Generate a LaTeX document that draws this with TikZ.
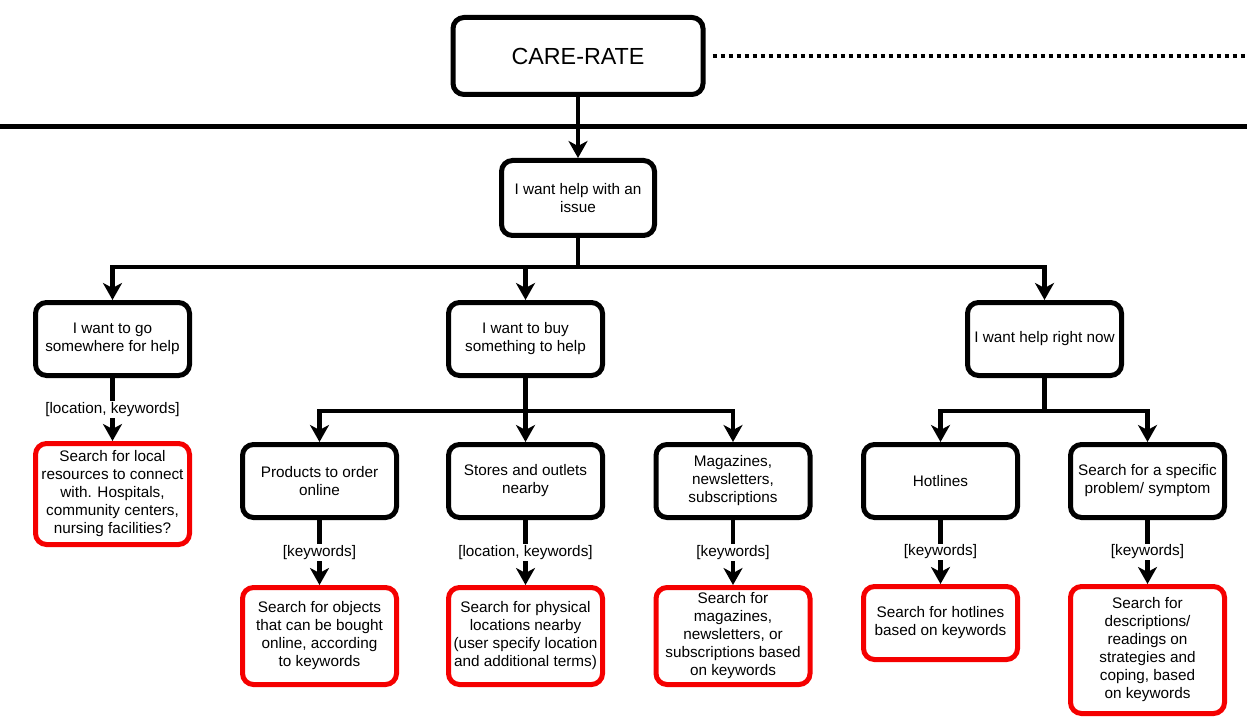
\documentclass[tikz,border=0pt]{standalone}
\usepackage{fontspec}
\setmainfont{Liberation Sans}
\usetikzlibrary{arrows.meta, positioning}
\definecolor{searchred}{RGB}{245,0,0}

\tikzset{
  box/.style={draw=black, line width=5pt, rounded corners=11pt, minimum width=154pt,
    minimum height=73pt, align=center, inner sep=2pt, font=\fontsize{15.3}{18}\selectfont},
  searchbox/.style={box, draw=searchred},
  link/.style={line width=4.5pt},
  arrow/.style={link, -{Stealth[length=17pt,width=19pt,inset=5pt]}},
  lbl/.style={fill=white, inner sep=1pt, font=\fontsize{15.3}{18}\selectfont}
}

\begin{document}
\begin{tikzpicture}[x=1pt,y=-1pt]
\useasboundingbox (0,0) rectangle (1247,727);
% top box, dotted line and the rule
\node [box, minimum width=250pt, minimum height=77pt, font=\fontsize{23.3}{28}\selectfont] (care) at (578,56) {CARE-RATE};
\coordinate (dots east) at (1247,56);
\coordinate (rule west) at (0,127);
\coordinate (rule east) at (1247,127);
\draw [line width=4pt, dash pattern=on 4pt off 4pt] ([xshift=7pt]care.east) -- (dots east);
\draw [line width=5pt] (rule west) -- (rule east);
% first question
\node [box, minimum width=153pt, minimum height=75pt] (issue) at (578,198) {I want help with an\\ issue};
\draw [arrow] (care) -- (issue);
\node [box] (go) at (112.5,339) {I want to go\\ somewhere for help};
\node [box] (buy) at (525.5,339) {I want to buy\\ something to help};
\node [box] (now) at (1044.5,339) {I want help right now};
\coordinate (hub1) at (578,267);
\draw [link] (issue) -- (hub1);
\draw [arrow] (hub1) -| (go);
\draw [arrow] (hub1) -| (buy);
\draw [arrow] (hub1) -| (now);
% go somewhere
\node [searchbox, minimum height=101pt] (local) at (112.5,494) {Search for local\\ resources to connect\\ with. Hospitals,\\ community centers,\\ nursing facilities?};
\draw [arrow] (go) -- node [lbl] {[location, keywords]} (local);
% buy something
\node [box] (products) at (319.5,481) {Products to order\\ online};
\node [box] (stores) at (525.5,481) {Stores and outlets\\ nearby};
\node [box] (magazines) at (733,481) {Magazines,\\ newsletters,\\ subscriptions};
\coordinate (hub2) at (525.5,411);
\draw [link] (buy) -- (hub2);
\draw [arrow] (hub2) -| (products);
\draw [arrow] (hub2) -- (stores);
\draw [arrow] (hub2) -| (magazines);
\node [searchbox, minimum height=97pt] (objects) at (319.5,636) {Search for objects\\ that can be bought\\ online, according\\ to keywords};
\node [searchbox, minimum height=97pt] (physical) at (525.5,636) {Search for physical\\ locations nearby\\ (user specify location\\ and additional terms)};
\node [searchbox, minimum height=97pt] (magsearch) at (733,636) {Search for\\ magazines,\\ newsletters, or\\ subscriptions based\\ on keywords};
\draw [arrow] (products) -- node [lbl] {[keywords]} (objects);
\draw [arrow] (stores) -- node [lbl] {[location, keywords]} (physical);
\draw [arrow] (magazines) -- node [lbl] {[keywords]} (magsearch);
% help right now
\node [box] (hotlines) at (940.5,481) {Hotlines};
\node [box] (specific) at (1147.5,481) {Search for a specific\\ problem/ symptom};
\coordinate (hub3) at (1044.5,411);
\draw [link] (now) -- (hub3);
\draw [arrow] (hub3) -| (hotlines);
\draw [arrow] (hub3) -| (specific);
\node [searchbox] (hotsearch) at (940.5,623) {Search for hotlines\\ based on keywords};
\node [searchbox, minimum height=127pt] (readings) at (1147.5,650) {Search for\\ descriptions/\\ readings on\\ strategies and\\ coping, based\\ on keywords};
\draw [arrow] (hotlines) -- node [lbl] {[keywords]} (hotsearch);
\draw [arrow] (specific) -- node [lbl] {[keywords]} (readings);
\end{tikzpicture}
\end{document}
